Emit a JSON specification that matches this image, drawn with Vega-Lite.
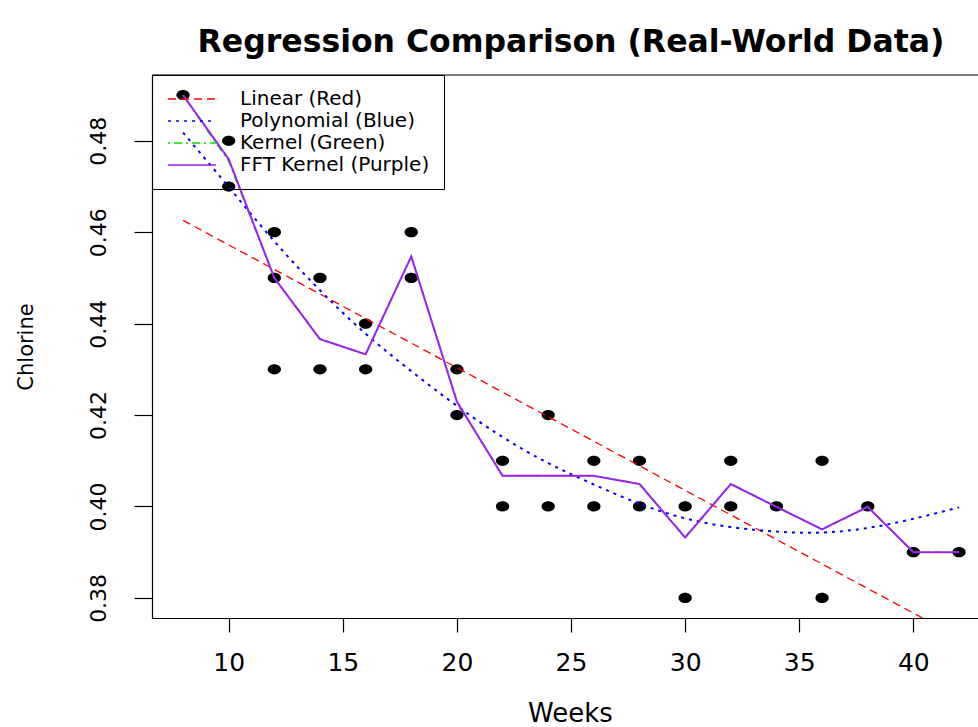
{
  "$schema": "https://vega.github.io/schema/vega-lite/v6.json",
  "width": 826,
  "height": 543,
  "autosize": {"type": "none"},
  "padding": {"left": 152, "top": 75, "right": 0, "bottom": 109},
  "background": "white",
  "title": {
    "text": "Regression Comparison (Real-World Data)",
    "font": "DejaVu Sans",
    "fontSize": 31.5,
    "fontWeight": "bold",
    "color": "black",
    "anchor": "middle",
    "frame": "group",
    "baseline": "alphabetic",
    "offset": 24,
    "dx": 6,
    "dy": 33
  },
  "config": {
    "view": {"stroke": null},
    "font": "DejaVu Sans",
    "axis": {
      "grid": false,
      "domainColor": "black",
      "domainWidth": 1.2,
      "tickColor": "black",
      "tickWidth": 1.2,
      "labelColor": "black",
      "titleColor": "black",
      "titleFontWeight": "normal",
      "labelFont": "DejaVu Sans",
      "titleFont": "DejaVu Sans"
    },
    "legend": {
      "orient": "none",
      "legendX": 0,
      "legendY": 0,
      "strokeColor": "black",
      "padding": 14,
      "rowPadding": 2,
      "symbolType": "M-1,0L5,0",
      "symbolSize": 256,
      "symbolStrokeWidth": 1.5,
      "labelOffset": 54,
      "labelFontSize": 20,
      "labelColor": "black",
      "labelFont": "DejaVu Sans",
      "labelLimit": 400
    }
  },
  "datasets": {
    "points": [
      {"week": 8, "chlorine": 0.49},
      {"week": 10, "chlorine": 0.48},
      {"week": 10, "chlorine": 0.47},
      {"week": 12, "chlorine": 0.46},
      {"week": 12, "chlorine": 0.45},
      {"week": 12, "chlorine": 0.43},
      {"week": 14, "chlorine": 0.45},
      {"week": 14, "chlorine": 0.43},
      {"week": 16, "chlorine": 0.44},
      {"week": 16, "chlorine": 0.43},
      {"week": 18, "chlorine": 0.46},
      {"week": 18, "chlorine": 0.45},
      {"week": 20, "chlorine": 0.43},
      {"week": 20, "chlorine": 0.42},
      {"week": 22, "chlorine": 0.41},
      {"week": 22, "chlorine": 0.40},
      {"week": 24, "chlorine": 0.42},
      {"week": 24, "chlorine": 0.40},
      {"week": 26, "chlorine": 0.41},
      {"week": 26, "chlorine": 0.40},
      {"week": 28, "chlorine": 0.41},
      {"week": 28, "chlorine": 0.40},
      {"week": 30, "chlorine": 0.40},
      {"week": 30, "chlorine": 0.38},
      {"week": 32, "chlorine": 0.41},
      {"week": 32, "chlorine": 0.40},
      {"week": 34, "chlorine": 0.40},
      {"week": 36, "chlorine": 0.41},
      {"week": 36, "chlorine": 0.38},
      {"week": 38, "chlorine": 0.40},
      {"week": 40, "chlorine": 0.39},
      {"week": 42, "chlorine": 0.39}
    ],
    "curves": [
      {"series": "Linear (Red)", "week": 8, "value": 0.4626},
      {"series": "Linear (Red)", "week": 42, "value": 0.3713},
      {"series": "Polynomial (Blue)", "week": 8, "value": 0.4818},
      {"series": "Polynomial (Blue)", "week": 10, "value": 0.4699},
      {"series": "Polynomial (Blue)", "week": 12, "value": 0.4580},
      {"series": "Polynomial (Blue)", "week": 14, "value": 0.4473},
      {"series": "Polynomial (Blue)", "week": 16, "value": 0.4378},
      {"series": "Polynomial (Blue)", "week": 18, "value": 0.4296},
      {"series": "Polynomial (Blue)", "week": 20, "value": 0.4220},
      {"series": "Polynomial (Blue)", "week": 22, "value": 0.4152},
      {"series": "Polynomial (Blue)", "week": 24, "value": 0.4095},
      {"series": "Polynomial (Blue)", "week": 26, "value": 0.4048},
      {"series": "Polynomial (Blue)", "week": 28, "value": 0.4006},
      {"series": "Polynomial (Blue)", "week": 30, "value": 0.3974},
      {"series": "Polynomial (Blue)", "week": 32, "value": 0.3955},
      {"series": "Polynomial (Blue)", "week": 34, "value": 0.3945},
      {"series": "Polynomial (Blue)", "week": 36, "value": 0.3943},
      {"series": "Polynomial (Blue)", "week": 38, "value": 0.3953},
      {"series": "Polynomial (Blue)", "week": 40, "value": 0.3973},
      {"series": "Polynomial (Blue)", "week": 42, "value": 0.3998},
      {"series": "Kernel (Green)", "week": 8, "value": 0.4900},
      {"series": "Kernel (Green)", "week": 10, "value": 0.4755},
      {"series": "Kernel (Green)", "week": 12, "value": 0.4500},
      {"series": "Kernel (Green)", "week": 14, "value": 0.4367},
      {"series": "Kernel (Green)", "week": 16, "value": 0.4333},
      {"series": "Kernel (Green)", "week": 18, "value": 0.4548},
      {"series": "Kernel (Green)", "week": 20, "value": 0.4231},
      {"series": "Kernel (Green)", "week": 22, "value": 0.4067},
      {"series": "Kernel (Green)", "week": 24, "value": 0.4067},
      {"series": "Kernel (Green)", "week": 26, "value": 0.4067},
      {"series": "Kernel (Green)", "week": 28, "value": 0.4050},
      {"series": "Kernel (Green)", "week": 30, "value": 0.3933},
      {"series": "Kernel (Green)", "week": 32, "value": 0.4050},
      {"series": "Kernel (Green)", "week": 34, "value": 0.4000},
      {"series": "Kernel (Green)", "week": 36, "value": 0.3950},
      {"series": "Kernel (Green)", "week": 38, "value": 0.4000},
      {"series": "Kernel (Green)", "week": 40, "value": 0.3900},
      {"series": "Kernel (Green)", "week": 42, "value": 0.3900},
      {"series": "FFT Kernel (Purple)", "week": 8, "value": 0.4900},
      {"series": "FFT Kernel (Purple)", "week": 10, "value": 0.4760},
      {"series": "FFT Kernel (Purple)", "week": 12, "value": 0.4500},
      {"series": "FFT Kernel (Purple)", "week": 14, "value": 0.4366},
      {"series": "FFT Kernel (Purple)", "week": 16, "value": 0.4333},
      {"series": "FFT Kernel (Purple)", "week": 18, "value": 0.4547},
      {"series": "FFT Kernel (Purple)", "week": 20, "value": 0.4229},
      {"series": "FFT Kernel (Purple)", "week": 22, "value": 0.4067},
      {"series": "FFT Kernel (Purple)", "week": 24, "value": 0.4067},
      {"series": "FFT Kernel (Purple)", "week": 26, "value": 0.4067},
      {"series": "FFT Kernel (Purple)", "week": 28, "value": 0.4049},
      {"series": "FFT Kernel (Purple)", "week": 30, "value": 0.3932},
      {"series": "FFT Kernel (Purple)", "week": 32, "value": 0.4049},
      {"series": "FFT Kernel (Purple)", "week": 34, "value": 0.3999},
      {"series": "FFT Kernel (Purple)", "week": 36, "value": 0.3950},
      {"series": "FFT Kernel (Purple)", "week": 38, "value": 0.3999},
      {"series": "FFT Kernel (Purple)", "week": 40, "value": 0.3900},
      {"series": "FFT Kernel (Purple)", "week": 42, "value": 0.3900}
    ]
  },
  "encoding": {
    "x": {
      "field": "week",
      "type": "quantitative",
      "scale": {"domain": [6.64, 42.832], "nice": false, "zero": false},
      "axis": {
        "title": "Weeks",
        "values": [10, 15, 20, 25, 30, 35, 40],
        "format": "d",
        "tickSize": 14,
        "labelFontSize": 25,
        "labelBaseline": "alphabetic",
        "labelPadding": 38,
        "titleFontSize": 26,
        "titleBaseline": "alphabetic",
        "titleX": 418,
        "titleY": 103
      }
    },
    "y": {
      "type": "quantitative",
      "scale": {"domain": [0.3756, 0.4944], "nice": false, "zero": false},
      "axis": {
        "title": "Chlorine",
        "values": [0.38, 0.4, 0.42, 0.44, 0.46, 0.48],
        "format": ".2f",
        "tickSize": 18,
        "labelAngle": -90,
        "labelAlign": "center",
        "labelBaseline": "alphabetic",
        "labelPadding": 29,
        "labelFontSize": 22,
        "titleFontSize": 21,
        "titleAngle": -90,
        "titleBaseline": "alphabetic",
        "titleX": -120,
        "titleY": 271.5
      }
    }
  },
  "layer": [
    {
      "data": {"name": "points"},
      "mark": {
        "type": "point",
        "filled": true,
        "color": "black",
        "opacity": 1,
        "strokeWidth": 0,
        "size": 176,
        "shape": "M-1,0A1,0.77,0,1,1,1,0A1,0.77,0,1,1,-1,0Z"
      },
      "encoding": {
        "y": {"field": "chlorine", "type": "quantitative"}
      }
    },
    {
      "data": {"name": "curves"},
      "transform": [{"filter": "datum.series === 'Linear (Red)'"}],
      "mark": {"type": "line", "clip": true, "strokeWidth": 1.3},
      "encoding": {
        "y": {"field": "value", "type": "quantitative"},
        "color": {
          "field": "series",
          "type": "nominal",
          "scale": {
            "domain": ["Linear (Red)", "Polynomial (Blue)", "Kernel (Green)", "FFT Kernel (Purple)"],
            "range": ["#FF0000", "#0000FF", "#00E000", "#A020F0"]
          },
          "legend": {"title": null}
        },
        "strokeDash": {
          "field": "series",
          "type": "nominal",
          "scale": {
            "domain": ["Linear (Red)", "Polynomial (Blue)", "Kernel (Green)", "FFT Kernel (Purple)"],
            "range": [[8, 5], [3, 5], [2, 4, 8, 4], [1, 0]]
          },
          "legend": {"title": null}
        }
      }
    },
    {
      "data": {"name": "curves"},
      "transform": [{"filter": "datum.series === 'Polynomial (Blue)'"}],
      "mark": {"type": "line", "clip": true, "strokeWidth": 2, "interpolate": "natural"},
      "encoding": {
        "y": {"field": "value", "type": "quantitative"},
        "color": {"field": "series", "type": "nominal"},
        "strokeDash": {"field": "series", "type": "nominal"}
      }
    },
    {
      "data": {"name": "curves"},
      "transform": [{"filter": "datum.series === 'Kernel (Green)'"}],
      "mark": {"type": "line", "clip": true, "strokeWidth": 1.5},
      "encoding": {
        "y": {"field": "value", "type": "quantitative"},
        "color": {"field": "series", "type": "nominal"},
        "strokeDash": {"field": "series", "type": "nominal"}
      }
    },
    {
      "data": {"name": "curves"},
      "transform": [{"filter": "datum.series === 'FFT Kernel (Purple)'"}],
      "mark": {"type": "line", "clip": true, "strokeWidth": 2},
      "encoding": {
        "y": {"field": "value", "type": "quantitative"},
        "color": {"field": "series", "type": "nominal"},
        "strokeDash": {"field": "series", "type": "nominal"}
      }
    },
    {
      "data": {"values": [{}]},
      "mark": {"type": "rule", "color": "black", "strokeWidth": 1.2},
      "encoding": {
        "x": null,
        "y": {"datum": 0.4944, "type": "quantitative"}
      }
    }
  ]
}
